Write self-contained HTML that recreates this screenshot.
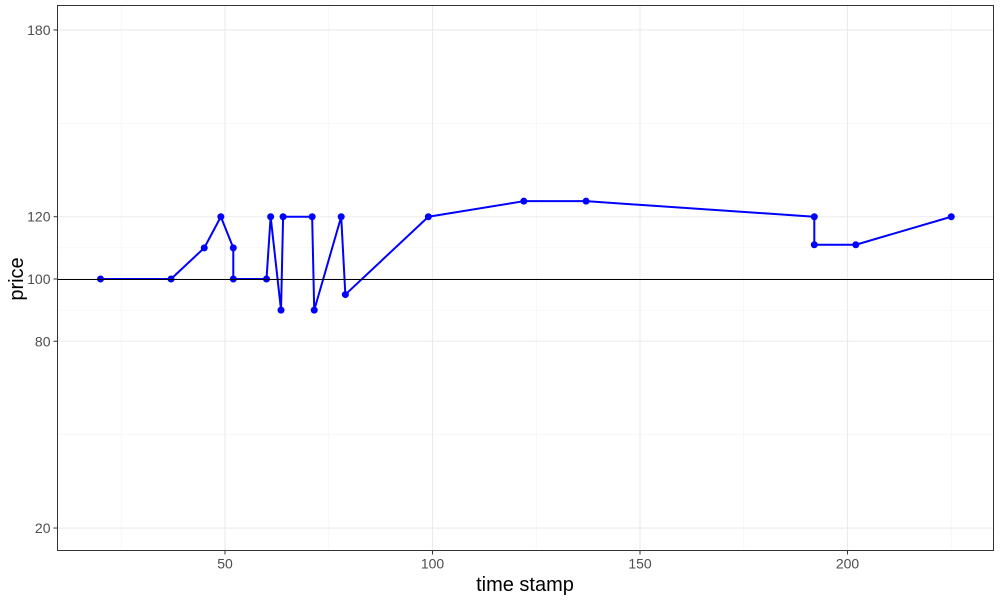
<!DOCTYPE html>
<html><head><meta charset="utf-8">
<style>
body{margin:0;background:#fff;font-family:"Liberation Sans",Arial,sans-serif;}
svg text{font-family:"Liberation Sans",Arial,sans-serif;}
</style></head>
<body>
<svg id="chart" width="1000" height="600" viewBox="0 0 1000 600" xmlns="http://www.w3.org/2000/svg">
<rect width="1000" height="600" fill="#fff"/>
<g id="grid"></g>
<g id="series"></g>
<rect x="57.5" y="5.5" width="936" height="545" fill="none" stroke="#333" stroke-width="1"/>
<g id="axes"></g>
<text x="525" y="591" text-anchor="middle" font-size="20" fill="#000">time stamp</text>
<text transform="translate(23,279) rotate(-90)" text-anchor="middle" font-size="20" fill="#000">price</text>
</svg>
<script>
const xs = [20,37,45,49,52,52,60,61,63.5,64,71,71.5,78,79,99,122,137,192,192,202,225];
const ys = [100,100,110,120,110,100,100,120,90,120,120,90,120,95,120,125,125,120,111,111,120];
const xTicks = [50,100,150,200];
const xMinor = [25,75,125,175,225];
const yTicks = [20,80,100,120,180];
const yMinor = [50,90,110,150];
const hlineValue = 100;

const NS="http://www.w3.org/2000/svg";
const X = v => 225 + (v-50)*4.15;
const Y = v => 279 - (v-100)*3.113;
const L=57.5,R=993.5,T=5.5,B=550.5;
function mk(tag,attrs,parent){const e=document.createElementNS(NS,tag);for(const k in attrs)e.setAttribute(k,attrs[k]);parent.appendChild(e);return e;}
const grid=document.getElementById('grid'),ser=document.getElementById('series'),axes=document.getElementById('axes');
xMinor.forEach(v=>{const e=mk('line',{x1:X(v),x2:X(v),y1:T,y2:B,stroke:'#f2f2f2','stroke-width':0.6},grid);

});
yMinor.forEach(v=>{const e=mk('line',{x1:L,x2:R,y1:Y(v),y2:Y(v),stroke:'#f2f2f2','stroke-width':0.6},grid);

});
xTicks.forEach(v=>{const e=mk('line',{x1:X(v),x2:X(v),y1:T,y2:B,stroke:'#ebebeb','stroke-width':1.1},grid);


const t=mk('line',{x1:X(v),x2:X(v),y1:B,y2:B+4,stroke:'#333'},axes);


const l=mk('text',{x:X(v),y:B+18,'text-anchor':'middle','font-size':14,fill:'#4d4d4d'},axes);l.textContent=v;

});
yTicks.forEach(v=>{const e=mk('line',{x1:L,x2:R,y1:Y(v),y2:Y(v),stroke:'#ebebeb','stroke-width':1.1},grid);


const t=mk('line',{x1:L-4,x2:L,y1:Y(v),y2:Y(v),stroke:'#333'},axes);


const l=mk('text',{x:L-7,y:Y(v)+5,'text-anchor':'end','font-size':14,fill:'#4d4d4d'},axes);l.textContent=v;

});
const pl=mk('polyline',{points:xs.map((x,i)=>X(x)+','+Y(ys[i])).join(' '),fill:'none',stroke:'#0000ff','stroke-width':2,'stroke-linejoin':'round'},ser);


xs.forEach((x,i)=>{const c=mk('circle',{cx:X(x),cy:Y(ys[i]),r:3.5,fill:'#0000ff'},ser);

});
const hy=Math.round(Y(hlineValue))+0.5;
const h=mk('line',{x1:L,x2:R,y1:hy,y2:hy,stroke:'#000','stroke-width':1},ser);


</script>
</body></html>
